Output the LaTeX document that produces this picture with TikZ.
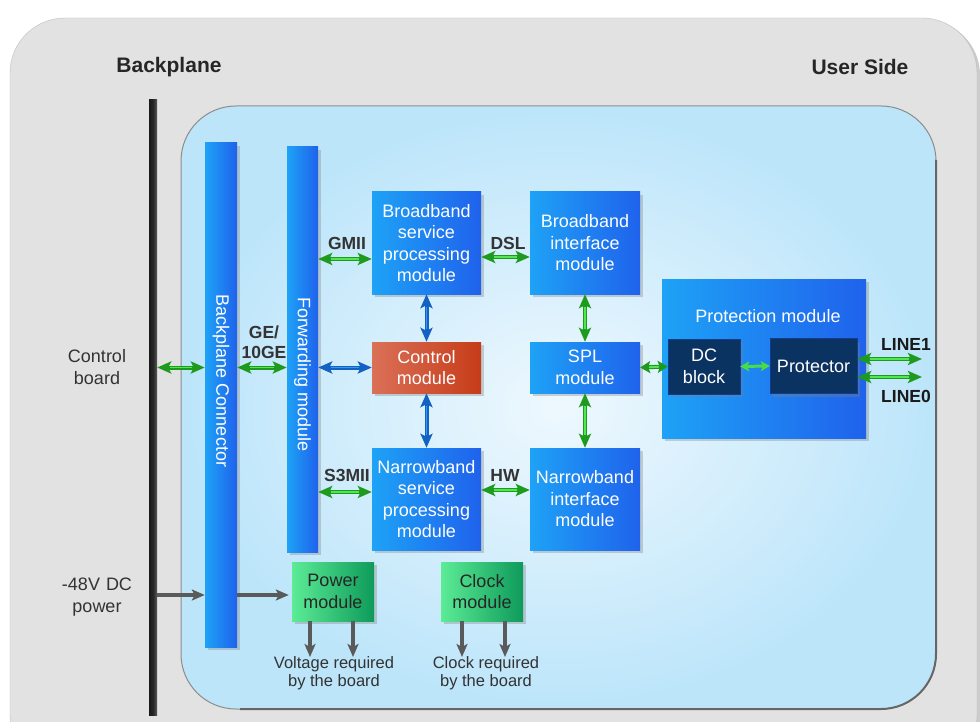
\documentclass[tikz,border=0pt]{standalone}
\usepackage{fontspec}
\setmainfont{Liberation Sans}
\usetikzlibrary{shadows,arrows.meta,calc}
\definecolor{blA}{HTML}{1EA2F6}
\definecolor{blB}{HTML}{1F62EC}
\definecolor{rdA}{HTML}{DA7058}
\definecolor{rdB}{HTML}{C63C18}
\definecolor{gnA}{HTML}{5CEC96}
\definecolor{gnB}{HTML}{0E9A5A}
\definecolor{dkbox}{HTML}{0B3361}
\definecolor{agreen}{HTML}{1E9A1E}
\definecolor{alight}{HTML}{4FE84F}
\definecolor{ablue}{HTML}{1262C4}
\definecolor{ablight}{HTML}{3796EE}
\definecolor{agray}{HTML}{5A5A5A}
\definecolor{lbl}{HTML}{333333}
\definecolor{panel}{HTML}{E2E2E2}
\definecolor{skyA}{HTML}{EEF8FE}
\definecolor{skyB}{HTML}{BCE5FA}
\begin{document}
\begin{tikzpicture}[x=1pt,y=-1pt,
  shad/.style={drop shadow={opacity=0.35,shadow xshift=3pt,shadow yshift=-3pt}},
  box/.style={inner sep=0pt,align=center,text=white,font=\fontsize{18}{21.5}\selectfont,shad},
  bluebox/.style={box,left color=blA,right color=blB},
  redbox/.style={box,left color=rdA,right color=rdB},
  greenbox/.style={box,left color=gnA,right color=gnB,text=black!85},
  darkbox/.style={box,fill=dkbox,draw=blB!60!black,drop shadow={opacity=0}},
  bartext/.style={rotate=-90,text=white,inner sep=0pt,font=\fontsize{18}{21.5}\selectfont},
  lab/.style={font=\fontsize{17.5}{20}\selectfont\bfseries,text=lbl,align=center,inner sep=0pt},
  txt/.style={font=\fontsize{18}{21.5}\selectfont,text=lbl,align=center,inner sep=0pt},
  small/.style={font=\fontsize{16.5}{18.5}\selectfont,text=lbl,align=center,inner sep=0pt},
  garrow/.style={line width=4pt,draw=agreen,arrows={Stealth[length=14pt,width=12pt,inset=3pt]-Stealth[length=14pt,width=12pt,inset=3pt]},
     postaction={draw=alight,line width=1.8pt,arrows=-,shorten <=13pt,shorten >=13pt}},
  gshort/.style={line width=4pt,draw=agreen,arrows={Stealth[length=10pt,width=12pt,inset=2pt]-Stealth[length=10pt,width=12pt,inset=2pt]},
     postaction={draw=alight,line width=1.8pt,arrows=-,shorten <=9pt,shorten >=9pt}},
  glight/.style={line width=3pt,draw=alight!85!agreen,arrows={Stealth[length=9pt,width=10pt,inset=2pt]-Stealth[length=9pt,width=10pt,inset=2pt]}},
  barrow/.style={line width=4pt,draw=ablue,arrows={Stealth[length=14pt,width=12pt,inset=3pt]-Stealth[length=14pt,width=12pt,inset=3pt]},
     postaction={draw=ablight,line width=1.8pt,arrows=-,shorten <=13pt,shorten >=13pt}},
  gyarrow/.style={line width=3.5pt,draw=agray,arrows={-Stealth[length=13pt,width=11pt,inset=3pt]}},
]
\useasboundingbox (0,0) rectangle (980,722);
\fill[white] (0,0) rectangle (980,722);
\clip (0,0) rectangle (980,722);
% outer panel
\path[fill=panel,draw=black!25,rounded corners=55pt,drop shadow={opacity=0.4,shadow xshift=3pt,shadow yshift=-2pt}]
  (10,18) rectangle (977,770);
% inner panel
\shade[inner color=skyA,outer color=skyB,rounded corners=55pt] (181,106) rectangle (936,709);
\draw[black!45,line width=1pt,rounded corners=55pt] (181,106) rectangle (936,709);
\draw[black!60,line width=2pt,rounded corners=55pt] (936,160) -- (936,709) -- (240,709);
% titles
\node[lab,font=\fontsize{21}{24}\selectfont\bfseries,text=black!85] (tbp) at (169,67) {Backplane};
\node[lab,font=\fontsize{21}{24}\selectfont\bfseries,text=black!85] (tus) at (860,67) {User Side};
% backplane bar
\node[left color=black!90,right color=black!65,middle color=black!85,minimum width=8pt,minimum height=615pt,inner sep=0pt] (bpbar) at (153,407.5) {};
% vertical bars
\node[bluebox,minimum width=32pt,minimum height=504pt] (bconn) at (221,395) {};
\node[bartext] (bconnT) at (221,381) {Backplane Connector};
\node[bluebox,minimum width=31pt,minimum height=405pt] (fwd) at (302.5,349.5) {};
\node[bartext] (fwdT) at (302.5,375) {Forwarding module};
% modules
\node[bluebox,minimum width=109pt,minimum height=102pt] (bbs) at (426.5,243) {Broadband\\service\\processing\\module};
\node[redbox,minimum width=109pt,minimum height=51pt] (ctl) at (426.5,367.5) {Control\\module};
\node[bluebox,minimum width=109pt,minimum height=102pt] (nbs) at (426.5,499) {Narrowband\\service\\processing\\module};
\node[bluebox,minimum width=110pt,minimum height=102pt] (bbi) at (585,243) {Broadband\\interface\\module};
\node[bluebox,minimum width=110pt,minimum height=51pt] (spl) at (585,367.5) {SPL\\module};
\node[bluebox,minimum width=110pt,minimum height=102pt] (nbi) at (585,499) {Narrowband\\interface\\module};
\node[bluebox,minimum width=204pt,minimum height=159pt] (prot) at (764,358.5) {};
\node[txt,text=white] (protT) at (768,316) {Protection module};
\node[darkbox,minimum width=72pt,minimum height=55pt] (dcb) at (704,366.5) {DC\\block};
\node[darkbox,minimum width=87pt,minimum height=55pt] (prt) at (813.5,366) {Protector};
\node[greenbox,minimum width=82pt,minimum height=59pt] (pwr) at (333,591.5) {Power\\module};
\node[greenbox,minimum width=82pt,minimum height=59pt] (clk) at (482,591.5) {Clock\\module};
% side texts
\node[txt] (cb) at (97,367) {Control\\board};
\node[txt] (dc48) at (97,597) {-48V\,\,DC\\power};
% connectors
\draw[garrow] (bpbar.east |- ctl) -- (bconn.west |- ctl);
\draw[garrow] (bconn.east |- ctl) -- (fwd.west |- ctl);
\node[lab] (ge) at (264,342) {GE/\\10GE};
\draw[barrow] (fwd.east |- ctl) -- (ctl.west);
\draw[garrow] (fwd.east |- 0,259) -- (bbs.west |- 0,259);
\node[lab] (gmii) at (347,243) {GMII};
\draw[garrow] (bbs.east |- 0,257) -- (bbi.west |- 0,257);
\node[lab] (dsl) at (508,243) {DSL};
\draw[garrow] (fwd.east |- 0,492) -- (nbs.west |- 0,492);
\node[lab] (s3) at (347,475) {S3MII};
\draw[garrow] (nbs.east |- 0,490) -- (nbi.west |- 0,490);
\node[lab] (hw) at (505,475) {HW};
\draw[barrow] (bbs.south) -- (ctl.north);
\draw[barrow] (ctl.south) -- (nbs.north);
\draw[garrow] (bbi.south) -- (spl.north);
\draw[garrow] (spl.south) -- (nbi.north);
\draw[gshort] (spl.east) -- (dcb.west);
\draw[glight] (dcb.east) -- (prt.west);
\coordinate (l1) at (922,359);
\coordinate (l0) at (922,377);
\draw[garrow] (prt.east |- l1) -- (l1);
\draw[garrow] (prt.east |- l0) -- (l0);
\node[lab,text=black!90] (tl1) at (906,344) {LINE1};
\node[lab,text=black!90] (tl0) at (906,396) {LINE0};
\draw[gyarrow] (bpbar.east |- 0,595) -- (bconn.west |- 0,595);
\draw[gyarrow,shorten >=3pt] (bconn.east |- 0,595) -- (pwr.west |- 0,595);
\coordinate (v1) at (310,657);
\coordinate (v2) at (353,657);
\coordinate (c1) at (462,657);
\coordinate (c2) at (505,657);
\draw[gyarrow] (pwr.south -| v1) -- (v1);
\draw[gyarrow] (pwr.south -| v2) -- (v2);
\draw[gyarrow] (clk.south -| c1) -- (c1);
\draw[gyarrow] (clk.south -| c2) -- (c2);
\node[small] (vr) at (334,673) {Voltage required\\by the board};
\node[small] (cr) at (486,673) {Clock required\\by the board};
\end{tikzpicture}
\end{document}
